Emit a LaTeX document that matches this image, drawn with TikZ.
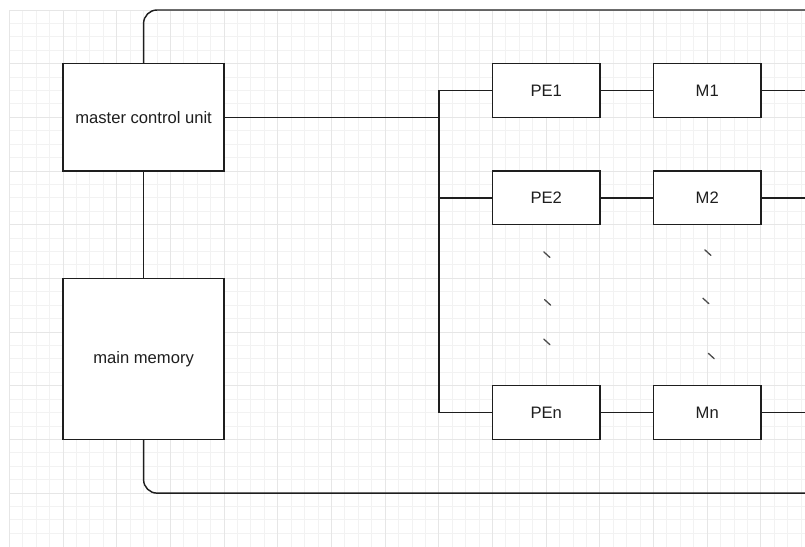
\documentclass[tikz,border=0pt]{standalone}
\usepackage{fontspec}
\setmainfont{Liberation Sans}
\definecolor{ink}{HTML}{1E1E1E}
\definecolor{gridminor}{HTML}{F2F2F2}
\definecolor{gridmajor}{HTML}{E6E6E6}
\tikzset{
  box/.style={draw=ink, line width=1.45pt, fill=white, text=ink, inner sep=0pt,
    font=\fontsize{16.6}{19}\selectfont},
  bigbox/.style={box, minimum width=161.04pt, minimum height=107.36pt},
  membox/.style={box, minimum width=161.04pt, minimum height=161.04pt},
  smallbox/.style={box, minimum width=107.36pt, minimum height=53.68pt},
  wire/.style={draw=ink, line width=1.45pt},
  tick/.style={draw=ink!80, line width=1.3pt, line cap=round}
}
\begin{document}
\begin{tikzpicture}
\useasboundingbox (0,0) rectangle (805pt,-546pt);
\fill[white] (0,0) rectangle (805pt,-546pt);
\begin{scope}[shift={(9.4pt,-10pt)}, x=13.42pt, y=-13.42pt]
  % grid
  \foreach \i in {0,...,59} {
    \pgfmathtruncatemacro{\m}{mod(\i,4)}
    \ifnum\m=0 \else
      \draw[gridminor, line width=1pt] (\i,0) -- (\i,40);
    \fi
  }
  \foreach \j in {0,...,39} {
    \pgfmathtruncatemacro{\m}{mod(\j,4)}
    \ifnum\m=0 \else
      \draw[gridminor, line width=1pt] (0,\j) -- (59.3,\j);
    \fi
  }
  \foreach \i in {0,4,...,56} \draw[gridmajor, line width=1pt] (\i,0) -- (\i,40);
  \foreach \j in {0,4,...,36} \draw[gridmajor, line width=1pt] (0,\j) -- (59.3,\j);

  % nodes
  \node[bigbox] (mcu) at (10,8) {master control unit};
  \node[membox] (mm) at (10,26) {main memory};
  \node[smallbox] (pe1) at (40,6) {PE1};
  \node[smallbox] (pe2) at (40,14) {PE2};
  \node[smallbox] (pen) at (40,30) {PEn};
  \node[smallbox] (m1) at (52,6) {M1};
  \node[smallbox] (m2) at (52,14) {M2};
  \node[smallbox] (mn) at (52,30) {Mn};

  \coordinate (busM) at (32,8);
  \coordinate (topR) at (59.285,0);
  \coordinate (botR) at (59.285,36);
  \coordinate (r1) at (59.285,6);
  \coordinate (r2) at (59.285,14);
  \coordinate (rn) at (59.285,30);

  % connectors
  \draw[wire] (mcu) -- (mm);
  \draw[wire, rounded corners=13.42pt] (mcu.north) |- (topR);
  \draw[wire, rounded corners=13.42pt] (mm.south) |- (botR);
  \draw[wire] (mcu.east) -- (busM);
  \draw[wire] (pe1.west) -| (busM);
  \draw[wire] (pen.west) -| (busM);
  \draw[wire] (pe2.west) -- (pe2.west -| busM);
  \draw[wire] (pe1) -- (m1);
  \draw[wire] (pe2) -- (m2);
  \draw[wire] (pen) -- (mn);
  \draw[wire] (m1.east) -- (r1);
  \draw[wire] (m2.east) -- (r2);
  \draw[wire] (mn.east) -- (rn);

  % ellipsis ticks
  \foreach \x/\y in {40.05/18.25, 40.1/21.8, 40.05/24.75, 52.05/18.1, 51.9/21.7, 52.3/25.8}
    \draw[tick] ([shift={(-3pt,3pt)}]\x,\y) -- ([shift={(3pt,-2.5pt)}]\x,\y);
\end{scope}
\end{tikzpicture}
\end{document}
